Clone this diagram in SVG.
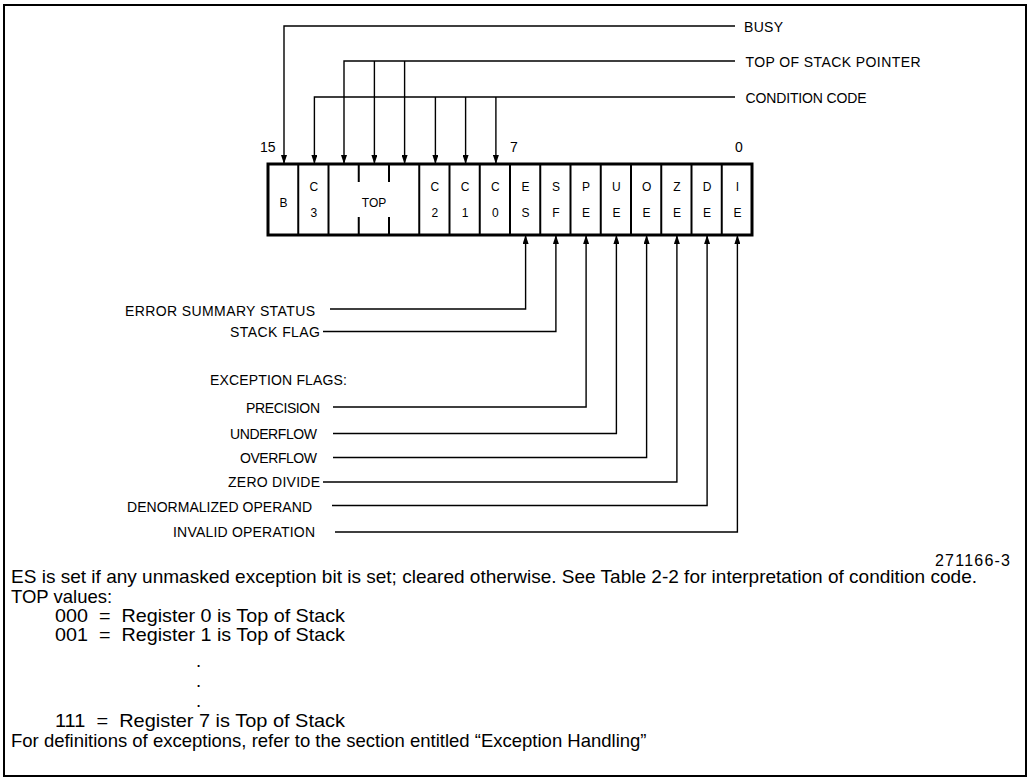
<svg xmlns="http://www.w3.org/2000/svg" width="1030" height="778" viewBox="0 0 1030 778">
<style>
text{font-family:"Liberation Sans",Arial,Helvetica,sans-serif;fill:#000}
.lbl{font-size:14px}
.end{text-anchor:end}
.cell{font-size:12px;text-anchor:middle}
.num{font-size:14px}
.para{font-size:18.5px}
.conn{fill:none;stroke:#000;stroke-width:1.4}
.arr{marker-end:url(#ah)}
.div{stroke:#000;stroke-width:2}
</style>
<defs>
<marker id="ah" markerUnits="userSpaceOnUse" markerWidth="9" markerHeight="6" viewBox="0 0 9 6" refX="9" refY="3" orient="auto">
<path d="M0,0 L9,3 L0,6 z" fill="#000"/>
</marker>
</defs>
<rect x="0" y="0" width="1030" height="778" fill="#fff"/>
<rect id="frame" x="4" y="5" width="1022" height="771" fill="none" stroke="#000" stroke-width="2"/>

<g id="register">
<rect x="268" y="164" width="484" height="71" fill="#fff" stroke="#000" stroke-width="3"/>
<g class="div">
<line x1="298.25" y1="164" x2="298.25" y2="235"/>
<line x1="328.5" y1="164" x2="328.5" y2="235"/>
<line x1="358.75" y1="164" x2="358.75" y2="182"/>
<line x1="358.75" y1="217" x2="358.75" y2="235"/>
<line x1="389" y1="164" x2="389" y2="182"/>
<line x1="389" y1="217" x2="389" y2="235"/>
<line x1="419.25" y1="164" x2="419.25" y2="235"/>
<line x1="449.5" y1="164" x2="449.5" y2="235"/>
<line x1="479.75" y1="164" x2="479.75" y2="235"/>
<line x1="510" y1="164" x2="510" y2="235"/>
<line x1="540.25" y1="164" x2="540.25" y2="235"/>
<line x1="570.5" y1="164" x2="570.5" y2="235"/>
<line x1="600.75" y1="164" x2="600.75" y2="235"/>
<line x1="631" y1="164" x2="631" y2="235"/>
<line x1="661.25" y1="164" x2="661.25" y2="235"/>
<line x1="691.5" y1="164" x2="691.5" y2="235"/>
<line x1="721.75" y1="164" x2="721.75" y2="235"/>
</g>
<g id="cell-B"><text class="cell" x="283.6" y="206.5">B</text></g>
<g id="cell-C3"><text class="cell" x="313.9" y="191">C</text><text class="cell" x="313.9" y="217">3</text></g>
<g id="cell-TOP"><text class="cell" x="374" y="206.5">TOP</text></g>
<g id="cell-C2"><text class="cell" x="434.9" y="191">C</text><text class="cell" x="434.9" y="217">2</text></g>
<g id="cell-C1"><text class="cell" x="465.1" y="191">C</text><text class="cell" x="465.1" y="217">1</text></g>
<g id="cell-C0"><text class="cell" x="495.4" y="191">C</text><text class="cell" x="495.4" y="217">0</text></g>
<g id="cell-ES"><text class="cell" x="525.6" y="191">E</text><text class="cell" x="525.6" y="217">S</text></g>
<g id="cell-SF"><text class="cell" x="555.9" y="191">S</text><text class="cell" x="555.9" y="217">F</text></g>
<g id="cell-PE"><text class="cell" x="586.1" y="191">P</text><text class="cell" x="586.1" y="217">E</text></g>
<g id="cell-UE"><text class="cell" x="616.4" y="191">U</text><text class="cell" x="616.4" y="217">E</text></g>
<g id="cell-OE"><text class="cell" x="646.6" y="191">O</text><text class="cell" x="646.6" y="217">E</text></g>
<g id="cell-ZE"><text class="cell" x="676.9" y="191">Z</text><text class="cell" x="676.9" y="217">E</text></g>
<g id="cell-DE"><text class="cell" x="707.1" y="191">D</text><text class="cell" x="707.1" y="217">E</text></g>
<g id="cell-IE"><text class="cell" x="737.4" y="191">I</text><text class="cell" x="737.4" y="217">E</text></g>
</g>

<g id="bit-numbers">
<text class="num" x="260" y="152">15</text>
<text class="num" x="510" y="152">7</text>
<text class="num" x="735" y="152">0</text>
</g>

<g id="connectors">
<path class="conn arr" d="M735,26 H284 V164"/>
<path class="conn arr" d="M735,61 H344 V164"/>
<path class="conn arr" d="M374.4,61 V164"/>
<path class="conn arr" d="M404.6,61 V164"/>
<path class="conn arr" d="M735,97 H314.4 V164"/>
<path class="conn arr" d="M435.4,97 V164"/>
<path class="conn arr" d="M465.6,97 V164"/>
<path class="conn arr" d="M495.9,97 V164"/>
<path class="conn arr" d="M330,309 H525.6 V235"/>
<path class="conn arr" d="M323,331.5 H555.9 V235"/>
<path class="conn arr" d="M333,407 H586.1 V235"/>
<path class="conn arr" d="M333,433.5 H616.4 V235"/>
<path class="conn arr" d="M333,457.5 H646.6 V235"/>
<path class="conn arr" d="M323,482 H676.9 V235"/>
<path class="conn arr" d="M332,505.5 H707.1 V235"/>
<path class="conn arr" d="M335,532 H737.4 V235"/>
</g>

<g id="label-busy"><text class="lbl" x="744" y="31.5" textLength="39">BUSY</text></g>
<g id="label-tos"><text class="lbl" x="745.5" y="66.5" textLength="175">TOP OF STACK POINTER</text></g>
<g id="label-cc"><text class="lbl" x="745.5" y="102.5" textLength="121">CONDITION CODE</text></g>

<g id="label-es"><text class="lbl end" x="315" y="315.5" textLength="190">ERROR SUMMARY STATUS</text></g>
<g id="label-sf"><text class="lbl end" x="320" y="336.5" textLength="90">STACK FLAG</text></g>
<g id="label-exc"><text class="lbl end" x="347" y="385" textLength="137">EXCEPTION FLAGS:</text></g>
<g id="label-pe"><text class="lbl end" x="320" y="412.5" textLength="74">PRECISION</text></g>
<g id="label-ue"><text class="lbl end" x="317" y="439" textLength="87">UNDERFLOW</text></g>
<g id="label-oe"><text class="lbl end" x="317" y="463" textLength="77">OVERFLOW</text></g>
<g id="label-ze"><text class="lbl end" x="320" y="487" textLength="92">ZERO DIVIDE</text></g>
<g id="label-de"><text class="lbl end" x="312" y="511.5" textLength="185">DENORMALIZED OPERAND</text></g>
<g id="label-ie"><text class="lbl end" x="315" y="537" textLength="142">INVALID OPERATION</text></g>

<g id="fig-number"><text class="lbl end" x="1010" y="566" textLength="75" style="font-size:16px">271166-3</text></g>

<g id="notes">
<text class="para" x="11" y="583" textLength="966" lengthAdjust="spacingAndGlyphs">ES is set if any unmasked exception bit is set; cleared otherwise. See Table 2-2 for interpretation of condition code.</text>
<text class="para" x="11" y="602.5">TOP values:</text>
<text class="para" x="55" y="621.5" xml:space="preserve" textLength="290" lengthAdjust="spacingAndGlyphs">000  =  Register 0 is Top of Stack</text>
<text class="para" x="55" y="641" xml:space="preserve" textLength="290" lengthAdjust="spacingAndGlyphs">001  =  Register 1 is Top of Stack</text>
<text class="para" x="196" y="667">.</text>
<text class="para" x="196" y="687">.</text>
<text class="para" x="196" y="707">.</text>
<text class="para" x="55" y="727" xml:space="preserve" textLength="290" lengthAdjust="spacingAndGlyphs">111  =  Register 7 is Top of Stack</text>
<text class="para" x="11" y="746.5">For definitions of exceptions, refer to the section entitled “Exception Handling”</text>
</g>
</svg>
